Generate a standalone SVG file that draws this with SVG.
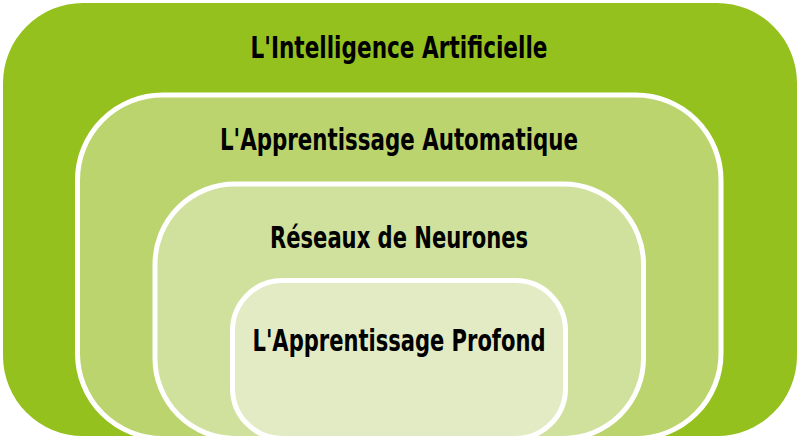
<svg xmlns="http://www.w3.org/2000/svg" width="800" height="440" viewBox="0 0 800 440">
<style>
.lbl{font-family:"DejaVu Sans Condensed","DejaVu Sans","Liberation Sans",sans-serif;font-stretch:condensed;font-weight:bold;font-size:31px;fill:#000;text-anchor:middle}
.inner{stroke:#fff;stroke-width:5}
</style>
<rect width="800" height="440" fill="#fff"/>
<g id="ia">
<rect x="3" y="3" width="794" height="433" rx="80" ry="80" fill="#95c11f"/>
<text class="lbl" x="399" y="58" textLength="297" lengthAdjust="spacingAndGlyphs">L'Intelligence Artificielle</text>
</g>
<g id="ml">
<rect class="inner" x="77.5" y="95" width="643.5" height="343.5" rx="85" ry="85" fill="#bbd46e"/>
<text class="lbl" x="399" y="150" textLength="358" lengthAdjust="spacingAndGlyphs">L'Apprentissage Automatique</text>
</g>
<g id="nn">
<rect class="inner" x="155" y="184" width="488.5" height="254.5" rx="80" ry="80" fill="#d0e09d"/>
<text class="lbl" x="399" y="248" textLength="258" lengthAdjust="spacingAndGlyphs">Réseaux de Neurones</text>
</g>
<g id="dl">
<rect class="inner" x="232.5" y="280.5" width="333" height="158" rx="50" ry="50" fill="#e3ebc5"/>
<text class="lbl" x="399" y="351" textLength="293" lengthAdjust="spacingAndGlyphs">L'Apprentissage Profond</text>
</g>
<g id="connectors"></g>
</svg>
